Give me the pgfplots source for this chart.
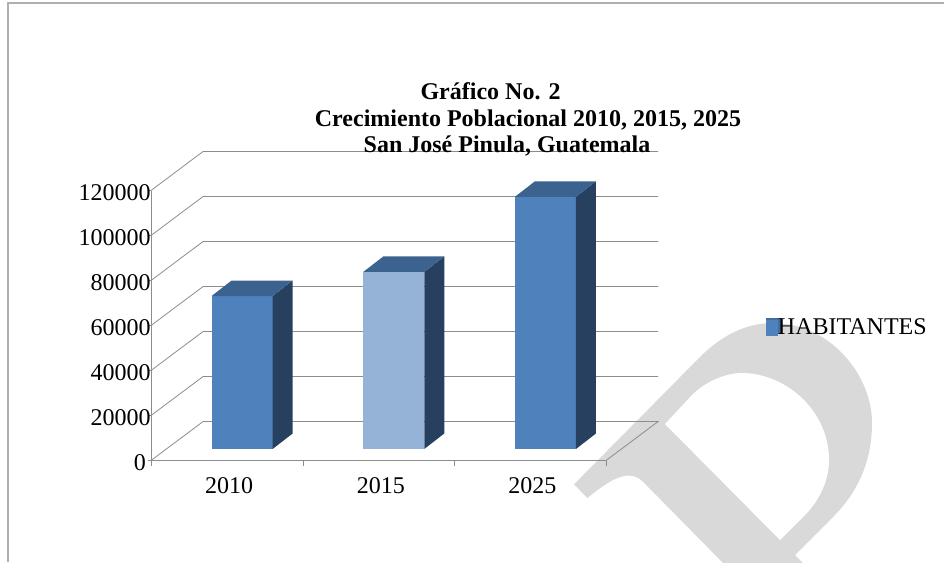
\documentclass[border=0pt]{standalone}
\usepackage{fontspec}
\setmainfont{Liberation Serif}
\usepackage{pgfplots}
\pgfplotsset{compat=1.18}
\definecolor{barblue}{HTML}{4F81BD}
\definecolor{barlight}{HTML}{95B3D7}
\definecolor{barside}{HTML}{28405F}
\definecolor{bartop}{HTML}{3C6290}
\definecolor{wallgray}{HTML}{8C8C8C}
\definecolor{framegray}{HTML}{B0B0B0}
\definecolor{markgray}{HTML}{D9D9D9}
\newcommand{\lbl}{\fontsize{18}{20}\selectfont}
\newcommand{\ttl}{\fontsize{18}{20}\selectfont\bfseries}
\begin{document}
\begin{tikzpicture}
\path[use as bounding box] (0pt,0pt) rectangle (708pt,-421.5pt);

% page frame and watermark, in pixel coordinates of the page
\begin{axis}[
    at={(0pt,0pt)}, anchor=north west,
    scale only axis, width=708pt, height=421.5pt,
    xmin=0, xmax=944, ymin=0, ymax=562, y dir=reverse,
    hide axis]
  \fill[markgray] (574,484.3) -- (587.3,498)
     .. controls (605,484) and (627,466) .. (643,481.7)
     -- (724,564) -- (804,564) -- (795,555) -- (833,517)
     .. controls (855,495) and (872,465) .. (872,423)
     .. controls (872,375) and (830,323) .. (773,323)
     .. controls (750,323) and (725,332) .. (700,357) -- cycle;
  \fill[white] (665,424) -- (780,540) -- (805,515)
     .. controls (815,505) and (829,485) .. (829,460)
     .. controls (829,410) and (785,373) .. (742,373)
     .. controls (725,373) and (705,382) .. (692,395) -- cycle;
  \addplot[framegray, line width=0.8pt] coordinates {(8,562) (8,3) (944,3)};
\end{axis}

% front plane: axes, ticks and the back wall lines
\begin{axis}[
    at={(113.25pt,-345.4pt)}, anchor=south west,
    scale only axis, width=341.25pt, height=202.5pt,
    xmin=0, xmax=3, ymin=0, ymax=120000,
    clip=false,
    scaled y ticks=false,
    axis x line=bottom, axis y line=left,
    axis line style={wallgray, -, line width=0.7pt},
    xtick={0.5,1.5,2.5}, xticklabels={2010,2015,2025},
    minor xtick={0,1,2,3},
    ytick={0,20000,40000,60000,80000,100000,120000},
    yticklabels={0\kern3.5pt,20000,40000,60000,80000,100000,120000},
    major x tick style={draw=none},
    minor tick length=4pt,
    minor tick style={wallgray},
    major tick length=2pt,
    y tick style={wallgray},
    tick align=outside,
    tick label style={font=\lbl},
    xticklabel style={yshift=-7.2pt, xshift=1.7pt},
    yticklabel style={xshift=5.2pt, yshift=-1.3pt}]
  \addplot[wallgray, line width=0.6pt] coordinates {(0,0) (0.343,17333) (3.343,17333) (3,0)};
  \addplot[wallgray, line width=0.6pt] coordinates {(0,20000) (0.343,37333) (3.343,37333)};
  \addplot[wallgray, line width=0.6pt] coordinates {(0,40000) (0.343,57333) (3.343,57333)};
  \addplot[wallgray, line width=0.6pt] coordinates {(0,60000) (0.343,77333) (3.343,77333)};
  \addplot[wallgray, line width=0.6pt] coordinates {(0,80000) (0.343,97333) (3.343,97333)};
  \addplot[wallgray, line width=0.6pt] coordinates {(0,100000) (0.343,117333) (3.343,117333)};
  \addplot[wallgray, line width=0.6pt] coordinates {(0,120000) (0.343,137333) (3.343,137333)};
\end{axis}

% the bars stand on a plane set back from the front one
\begin{axis}[
    at={(124.7pt,-336.75pt)}, anchor=south west,
    scale only axis, width=341.25pt, height=202.5pt,
    xmin=-0.5, xmax=2.5, ymin=0, ymax=120000,
    clip=false, hide axis,
    legend style={at={(1.318,0.448)}, anchor=west, draw=none, fill=none,
      inner sep=0pt, outer sep=0pt, font=\lbl, /tikz/every even column/.append style={column sep=0pt},
      nodes={inner sep=0pt, outer sep=0pt}},
    ]
  \addplot[ybar, bar shift=0pt, bar width=45.75pt, fill=barblue, draw=none,
    legend image code/.code={
      \fill[barblue!85!black, overlay] (0pt,-4.5pt) rectangle (12pt,7.5pt);
      \path (0pt,-6pt) rectangle (9pt,6pt);}]
    coordinates {(0,68000)};
  \addlegendentry{HABITANTES}
  \addplot[ybar, bar shift=0pt, bar width=45.75pt, fill=barlight, draw=none, forget plot]
    coordinates {(1,78700)};
  \addplot[ybar, bar shift=0pt, bar width=45.75pt, fill=barblue, draw=none, forget plot]
    coordinates {(2,112100)};
  % side and top faces
  \addplot[fill=barside, draw=none, forget plot] coordinates {(0.2011,0) (0.333,6890) (0.333,74890) (0.2011,68000)} --cycle;
  \addplot[fill=bartop, draw=none, forget plot] coordinates {(-0.2011,68000) (-0.069,74890) (0.333,74890) (0.2011,68000)} --cycle;
  \addplot[fill=barside, draw=none, forget plot] coordinates {(1.2011,0) (1.333,6890) (1.333,85590) (1.2011,78700)} --cycle;
  \addplot[fill=bartop, draw=none, forget plot] coordinates {(0.7989,78700) (0.931,85590) (1.333,85590) (1.2011,78700)} --cycle;
  \addplot[fill=barside, draw=none, forget plot] coordinates {(2.2011,0) (2.333,6890) (2.333,118990) (2.2011,112100)} --cycle;
  \addplot[fill=bartop, draw=none, forget plot] coordinates {(1.7989,112100) (1.931,118990) (2.333,118990) (2.2011,112100)} --cycle;
\end{axis}

\node[anchor=base, inner sep=0pt, font=\ttl] at (367.9pt,-74.25pt) {Gráfico No. 2};
\node[anchor=base, inner sep=0pt, font=\ttl] at (396pt,-94.9pt) {Crecimiento Poblacional 2010, 2015, 2025};
\node[anchor=base, inner sep=0pt, font=\ttl] at (380.25pt,-114pt) {San José Pinula, Guatemala};
\end{tikzpicture}
\end{document}
